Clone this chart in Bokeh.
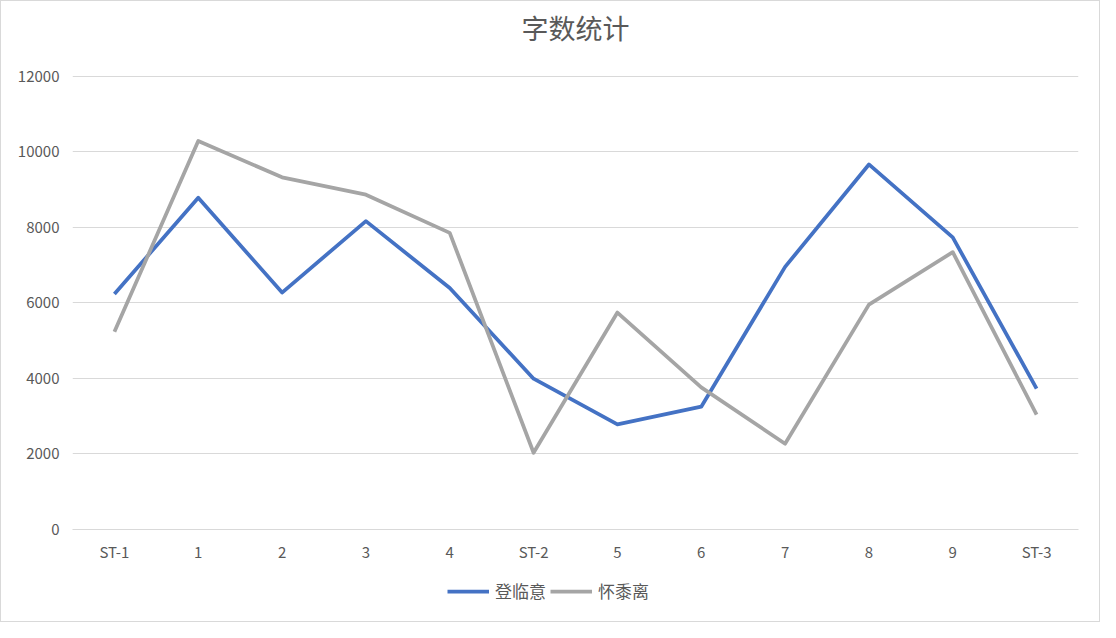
from bokeh.embed import file_html
from bokeh.layouts import column
from bokeh.models import (FactorRange, FixedTicker, Legend, LegendItem, Range1d,
                          Title)
from bokeh.plotting import figure
from bokeh.resources import INLINE

categories = ["ST-1", "1", "2", "3", "4", "ST-2", "5", "6", "7", "8", "9", "ST-3"]
deng_lin_yi = [6230, 8780, 6270, 8160, 6390, 3990, 2780, 3250, 6950, 9660, 7730, 3730]
huai_shu_li = [5230, 10280, 9320, 8860, 7850, 2030, 5740, 3760, 2270, 5950, 7340, 3040]
series_names = ["登临意", "怀黍离"]
y_ticks = [0, 2000, 4000, 6000, 8000, 10000, 12000]

FONT = "Noto Sans CJK SC"
TEXT = "#595959"
GRID = "#d9d9d9"
COLORS = ["#4472C4", "#A5A5A5"]

p = figure(width=1098, height=571, output_backend="svg", toolbar_location=None,
           x_range=FactorRange(*categories, range_padding=0),
           y_range=Range1d(0, 12040), title=None,
           min_border_left=71, min_border_right=21, min_border_top=73,
           min_border_bottom=43)

# blank title first = gap between frame and the real title
p.add_layout(Title(text=" ", text_font_size="20px", standoff=4), "above")
p.add_layout(Title(text="字数统计", align="center", text_font=FONT,
                   text_font_size="27px", text_font_style="normal",
                   text_color=TEXT, standoff=0), "above")

p.outline_line_color = None
p.xgrid.grid_line_color = None
p.ygrid.grid_line_color = GRID
p.ygrid.grid_line_width = 1

p.yaxis.ticker = FixedTicker(ticks=y_ticks)
p.yaxis.axis_line_color = None
p.yaxis.major_tick_line_color = None
p.yaxis.minor_tick_line_color = None
p.yaxis.major_label_standoff = 7
p.xaxis.axis_line_color = GRID
p.xaxis.major_tick_line_color = None
p.xaxis.major_label_standoff = 5
for ax in (p.xaxis[0], p.yaxis[0]):
    ax.major_label_text_font = FONT
    ax.major_label_text_font_size = "15px"
    ax.major_label_text_color = TEXT

p.line(categories, deng_lin_yi, line_color=COLORS[0], line_width=3.75,
       line_join="round")
p.line(categories, huai_shu_li, line_color=COLORS[1], line_width=3.75,
       line_join="round")

# legend strip under the chart (a side-panel legend squashed the frame)
leg = figure(width=1098, height=49, output_backend="svg", toolbar_location=None,
             x_range=Range1d(0, 1), y_range=Range1d(0, 1),
             min_border_left=0, min_border_right=0, min_border_top=0,
             min_border_bottom=0)
leg.axis.visible = False
leg.grid.visible = False
leg.outline_line_color = None
items = []
for name, color in zip(series_names, COLORS):
    # one-point line: draws nothing, only feeds the legend swatch
    r = leg.line(x=[0], y=[0], line_color=color, line_width=3.75)
    items.append(LegendItem(label=name, renderers=[r]))
legend = Legend(items=items, orientation="horizontal", location=(375, 18),
                label_text_font=FONT, label_text_font_size="17px",
                label_text_color=TEXT, border_line_color=None,
                background_fill_alpha=0, glyph_width=42, spacing=4,
                label_standoff=6, padding=0, margin=0)
leg.add_layout(legend)

page = column(p, leg, spacing=0, styles={"border": "1px solid #d9d9d9"})
open("out.html", "w").write(file_html(page, INLINE))
